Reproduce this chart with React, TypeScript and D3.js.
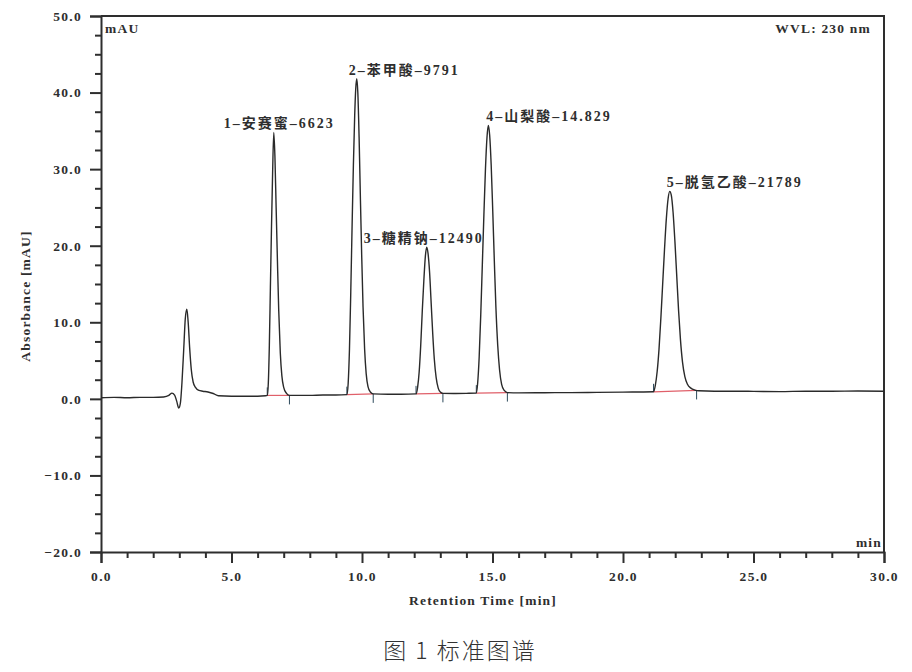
import { useEffect, useRef } from 'react';
import * as d3 from 'd3';

// chromatogram trace: retention time [min], absorbance [mAU]
const traceTime = [
  0, 0.5, 1.0, 1.5, 2.0, 2.4, 2.6, 2.72, 2.82, 2.9, 2.98, 3.04, 3.1, 3.17, 3.23, 3.29, 3.34, 3.4, 3.46, 3.53,
  3.62, 3.75, 3.9, 4.1, 4.3, 4.5, 5.0, 5.5, 6.0, 6.3,
  6.37, 6.41, 6.45, 6.49, 6.53, 6.575, 6.62, 6.665, 6.71, 6.76, 6.81, 6.87, 6.93, 7.0, 7.1, 7.22,
  7.6, 8.0, 8.5, 9.0, 9.42,
  9.47, 9.52, 9.57, 9.62, 9.67, 9.72, 9.76, 9.8, 9.84, 9.89, 9.94, 9.99, 10.04, 10.1, 10.16, 10.23, 10.32, 10.43,
  11.0, 11.5, 12.07,
  12.13, 12.19, 12.25, 12.31, 12.37, 12.43, 12.48, 12.53, 12.59, 12.65, 12.71, 12.77, 12.84, 12.92, 13.0, 13.1,
  13.5, 14.0, 14.38,
  14.43, 14.49, 14.55, 14.61, 14.67, 14.73, 14.79, 14.84, 14.89, 14.95, 15.01, 15.07, 15.13, 15.2, 15.27, 15.35, 15.45, 15.57,
  16, 17, 18, 19, 20, 20.6, 21.17,
  21.24, 21.31, 21.38, 21.45, 21.52, 21.59, 21.66, 21.73, 21.79, 21.85, 21.92, 21.99, 22.06, 22.13, 22.2, 22.28, 22.37, 22.47, 22.6, 22.75, 22.9,
  23.5, 24, 25, 26, 27, 28, 29, 30,
];
const traceAbs = [
  0.15, 0.2, 0.15, 0.2, 0.2, 0.25, 0.45, 0.75, 0.5, -0.3, -1.2, -0.6, 2.0, 6.5, 10.5, 11.7, 10.0, 6.5, 3.8, 2.2,
  1.5, 1.1, 1.0, 0.9, 0.7, 0.4, 0.35, 0.35, 0.35, 0.4,
  0.45, 2.0, 7, 14.5, 22, 29.5, 34.8, 31.5, 25, 18, 11.5, 6, 3.0, 1.5, 0.75, 0.45,
  0.45, 0.45, 0.5, 0.5, 0.55,
  2.0, 6.5, 14, 22.5, 30.5, 37, 40.5, 41.8, 40, 34, 26, 18.5, 12, 6.5, 3.3, 1.6, 0.9, 0.65,
  0.6, 0.6, 0.65,
  1.5, 3.5, 7, 11.5, 15.5, 18.7, 19.8, 19.0, 16.5, 12.5, 8.5, 5.2, 2.8, 1.4, 0.9, 0.72,
  0.7, 0.72, 0.75,
  2.0, 5.5, 11, 17.5, 24, 30, 34.2, 35.7, 34.5, 30.5, 24.5, 18, 12, 7, 3.8, 1.9, 1.1, 0.82,
  0.78, 0.8, 0.82, 0.85, 0.88, 0.9, 0.92,
  1.8, 3.6, 6.5, 10.5, 15, 19.5, 23.5, 26.2, 27.1, 26.6, 24.3, 20.5, 16, 11.5, 7.8, 4.8, 2.9, 1.9, 1.4, 1.15, 1.05,
  1.0, 1.0, 0.98, 0.95, 1.0, 1.0, 1.02, 1.0,
];

// peaks
const peakNo = [1, 2, 3, 4, 5];
const peakNames = ['安赛蜜', '苯甲酸', '糖精钠', '山梨酸', '脱氢乙酸'];
const peakTimeText = ['6623', '9791', '12490', '14.829', '21789'];
const peakApexTime = [6.62, 9.8, 12.48, 14.84, 21.79];
const peakApexAbs = [34.8, 41.8, 19.8, 35.7, 27.1];

// integration baselines (start / end of each peak)
const intStartTime = [6.37, 9.42, 12.07, 14.38, 21.17];
const intStartAbs = [0.45, 0.55, 0.65, 0.75, 0.92];
const intEndTime = [7.22, 10.43, 13.1, 15.57, 22.82];
const intEndAbs = [0.45, 0.65, 0.72, 0.82, 1.1];

// axes
const yMajorTicks = [-20, -10, 0, 10, 20, 30, 40, 50];
const xMajorTicks = [0, 5, 10, 15, 20, 25, 30];

const W = 912;
const H = 672;
const plot = { left: 101, right: 884, top: 16, bottom: 552 };
const ink = '#2e2e2e';
const latin = "'Liberation Serif', 'DejaVu Serif', serif";
const mixed = "'Liberation Serif', 'Noto Sans CJK SC', serif";

// label placement relative to apex (px)
const labelDx = [-50, -8, -63, -2, -3];

export default function App() {
  const svgRef = useRef<SVGSVGElement | null>(null);

  useEffect(() => {
    const svg = d3.select(svgRef.current).attr('width', W).attr('height', H);
    svg.selectAll('*').remove();

    const x = d3.scaleLinear().domain([0, 30]).range([plot.left, plot.right]);
    const y = d3.scaleLinear().domain([-20, 50]).range([plot.bottom, plot.top]);

    // frame (top + right)
    svg.append('path')
      .attr('d', `M${plot.left},${plot.top}H${plot.right}V${plot.bottom}`)
      .attr('fill', 'none')
      .attr('stroke', ink)
      .attr('stroke-width', 2);

    // y axis: minor ticks then major
    const yMinor = d3.range(-20, 50.01, 2.5).filter((v) => !yMajorTicks.includes(v));
    svg.append('g')
      .attr('transform', `translate(${plot.left},0)`)
      .call(d3.axisLeft(y).tickValues(yMinor).tickSize(6).tickFormat(() => ''))
      .call((g) => g.select('.domain').remove())
      .selectAll('line').attr('stroke', ink).attr('stroke-width', 2);

    const yAxis = svg.append('g')
      .attr('transform', `translate(${plot.left},0)`)
      .call(d3.axisLeft(y).tickValues(yMajorTicks).tickSize(11).tickPadding(8).tickFormat(d3.format('.1f')));
    yAxis.select('.domain').attr('stroke', ink).attr('stroke-width', 2);
    yAxis.selectAll('line').attr('stroke', ink).attr('stroke-width', 2);
    yAxis.selectAll('text')
      .attr('fill', ink)
      .style('font-family', latin)
      .style('font-weight', 'bold')
      .style('font-size', '13.5px')
      .style('letter-spacing', '1.3px');

    // x axis
    const xMinor = d3.range(0, 30.01, 1).filter((v) => !xMajorTicks.includes(v));
    svg.append('g')
      .attr('transform', `translate(0,${plot.bottom})`)
      .call(d3.axisBottom(x).tickValues(xMinor).tickSize(6).tickFormat(() => ''))
      .call((g) => g.select('.domain').remove())
      .selectAll('line').attr('stroke', ink).attr('stroke-width', 2);

    const xAxis = svg.append('g')
      .attr('transform', `translate(0,${plot.bottom})`)
      .call(d3.axisBottom(x).tickValues(xMajorTicks).tickSize(11).tickPadding(8).tickFormat(d3.format('.1f')));
    xAxis.select('.domain').attr('stroke', ink).attr('stroke-width', 2);
    xAxis.selectAll('line').attr('stroke', ink).attr('stroke-width', 2);
    xAxis.selectAll('text')
      .attr('fill', ink)
      .style('font-family', latin)
      .style('font-weight', 'bold')
      .style('font-size', '13.5px')
      .style('letter-spacing', '1.3px');

    // integration baselines
    const intG = svg.append('g');
    peakNo.forEach((_, i) => {
      intG.append('line')
        .attr('x1', x(intStartTime[i])).attr('y1', y(intStartAbs[i]))
        .attr('x2', x(intEndTime[i])).attr('y2', y(intEndAbs[i]))
        .attr('stroke', '#e0606a').attr('stroke-width', 1.2);
      intG.append('line')
        .attr('x1', x(intStartTime[i])).attr('x2', x(intStartTime[i]))
        .attr('y1', y(intStartAbs[i])).attr('y2', y(intStartAbs[i]) - 8)
        .attr('stroke', '#2d4a5c').attr('stroke-width', 1);
      intG.append('line')
        .attr('x1', x(intEndTime[i])).attr('x2', x(intEndTime[i]))
        .attr('y1', y(intEndAbs[i])).attr('y2', y(intEndAbs[i]) + 9)
        .attr('stroke', '#2d4a5c').attr('stroke-width', 1);
    });

    // trace
    const pts = traceTime.map((t, i) => [t, traceAbs[i]] as [number, number]);
    const line = d3.line<[number, number]>()
      .x((d) => x(d[0]))
      .y((d) => y(d[1]))
      .curve(d3.curveMonotoneX);
    svg.append('path')
      .datum(pts)
      .attr('d', line)
      .attr('fill', 'none')
      .attr('stroke', '#2a2a2a')
      .attr('stroke-width', 1.4)
      .attr('stroke-linejoin', 'round');

    // peak labels
    svg.append('g')
      .selectAll('text')
      .data(peakNo)
      .join('text')
      .attr('x', (_, i) => x(peakApexTime[i]) + labelDx[i])
      .attr('y', (_, i) => y(peakApexAbs[i]) - 4)
      .attr('fill', ink)
      .style('font-family', mixed)
      .style('font-weight', 'bold')
      .style('font-size', '14px')
      .style('letter-spacing', '2px')
      .text((d, i) => `${d}–${peakNames[i]}–${peakTimeText[i]}`);

    // corner texts
    const small = (sel: d3.Selection<SVGTextElement, unknown, null, undefined>) =>
      sel.attr('fill', ink)
        .style('font-family', latin)
        .style('font-weight', 'bold')
        .style('font-size', '13.5px')
        .style('letter-spacing', '1.2px');

    small(svg.append('text').attr('x', 105).attr('y', 33).text('mAU'));
    small(svg.append('text').attr('x', 871).attr('y', 33).attr('text-anchor', 'end').text('WVL: 230 nm'));
    small(svg.append('text').attr('x', plot.right - 2).attr('y', plot.bottom - 5).attr('text-anchor', 'end').text('min'));

    small(svg.append('text')
      .attr('x', 483).attr('y', 605)
      .attr('text-anchor', 'middle')
      .text('Retention Time [min]'));

    small(svg.append('text')
      .attr('transform', `translate(30,${296}) rotate(-90)`)
      .attr('text-anchor', 'middle')
      .style('letter-spacing', '0.9px')
      .text('Absorbance [mAU]'));

    // figure caption
    svg.append('text')
      .attr('x', 460).attr('y', 659)
      .attr('text-anchor', 'middle')
      .attr('fill', '#333')
      .style('font-family', "'Noto Sans CJK SC', sans-serif")
      .style('font-size', '23px')
      .style('font-weight', 300)
      .style('letter-spacing', '2px')
      .text('图 1 标准图谱');
  }, []);

  return (
    <div style={{ position: 'absolute', left: 0, top: 0, background: '#fff' }}>
      <svg ref={svgRef}></svg>
    </div>
  );
}
